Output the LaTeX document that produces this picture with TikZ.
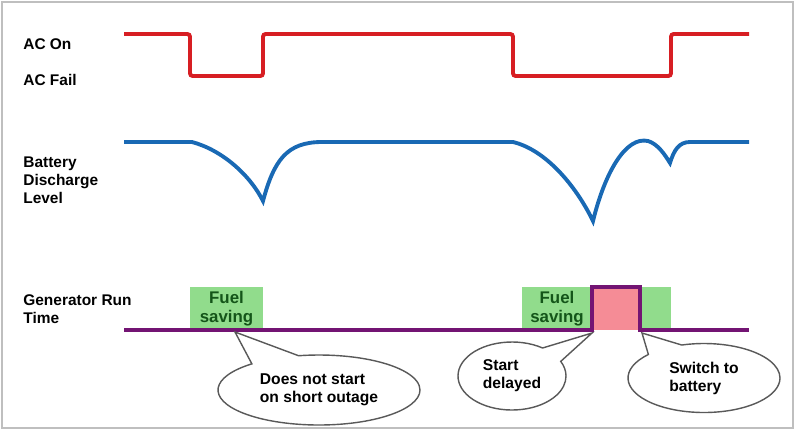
\documentclass[tikz,border=0pt]{standalone}
\usepackage{fontspec}
\setmainfont{Liberation Sans}
\usepackage{tikz}
\usetikzlibrary{positioning, calc, shapes.callouts}

\definecolor{acred}{RGB}{215,30,35}
\definecolor{batblue}{RGB}{25,105,180}
\definecolor{genpurple}{RGB}{115,20,115}
\definecolor{fuelgreen}{RGB}{145,220,140}
\definecolor{fueltext}{RGB}{20,85,25}
\definecolor{runpink}{RGB}{245,140,150}

\begin{document}
\begin{tikzpicture}[x=0.02cm, y=-0.02cm,
  lbl/.style={anchor=west, align=left, inner sep=0pt, font=\bfseries\fontsize{8.8}{10.3}\selectfont},
  trace/.style={line width=2.2pt, rounded corners=1.5pt},
  fuelbox/.style={fill=fuelgreen, draw=none, inner sep=0pt, align=center, text=fueltext, font=\bfseries\fontsize{9.6}{10.5}\selectfont},
  bubble/.style={ellipse callout, draw=black!65, fill=white, line width=0.8pt, callout pointer arc=30, inner sep=0pt, align=left, font=\bfseries\fontsize{8.9}{10.3}\selectfont}]
\useasboundingbox (0,0) rectangle (800,430);
\draw[black!25, line width=0.8pt] (2,2) rectangle (793,428);

% row labels
\node[lbl] (acon) at (23,44) {AC On};
\node[lbl] (acfail) at (23,80) {AC Fail};
\node[lbl] (battery) at (23,180) {Battery\\Discharge\\Level};
\node[lbl] (genrun) at (23,309) {Generator Run\\Time};

% AC state
\draw[trace, acred] (124,34) -- (190,34) -- (190,76) -- (263,76) -- (263,34) -- (513,34) -- (513,76) -- (671,76) -- (671,34) -- (749,34);

% battery level
\draw[line width=2.2pt, batblue] (124,142) -- (192,142)
  .. controls (222,150) and (250,175) .. (263,201)
  .. controls (274,160) and (287,142) .. (322,142) -- (513,142)
  .. controls (546,150) and (576,186) .. (593,221)
  .. controls (605,172) and (626,136) .. (648,141)
  .. controls (658,144) and (665,155) .. (670,163)
  .. controls (674,150) and (679,142) .. (690,142) -- (749,142);

% generator run time
\node[fuelbox, minimum width=73*0.02cm, minimum height=43*0.02cm] (fuel1) at (226.5,308.5) {Fuel\\saving};
\fill[fuelgreen] (522,287) rectangle (671,330);
\node[fuelbox, fill=none] (fuel2) at (557,308.5) {Fuel\\saving};
\fill[runpink] (592,287) rectangle (640,330);
\draw[line width=2.2pt, genpurple] (124,330) -- (592,330) -- (592,287) -- (640,287) -- (640,330) -- (749,330);

% callouts
\coordinate (tipa) at (235,332);
\coordinate (tipb) at (592,333);
\coordinate (tipc) at (642,333);
\node[bubble, minimum width=202*0.02cm, minimum height=70*0.02cm, callout absolute pointer=(tipa)] (short) at (319,390) {Does not start\\on short outage};
\node[bubble, minimum width=108*0.02cm, minimum height=68*0.02cm, callout absolute pointer=(tipb)] (delay) at (512,376) {Start\\delayed};
\node[bubble, minimum width=152*0.02cm, minimum height=69*0.02cm, callout absolute pointer=(tipc)] (switch) at (704,378) {Switch to\\battery};
\end{tikzpicture}
\end{document}
